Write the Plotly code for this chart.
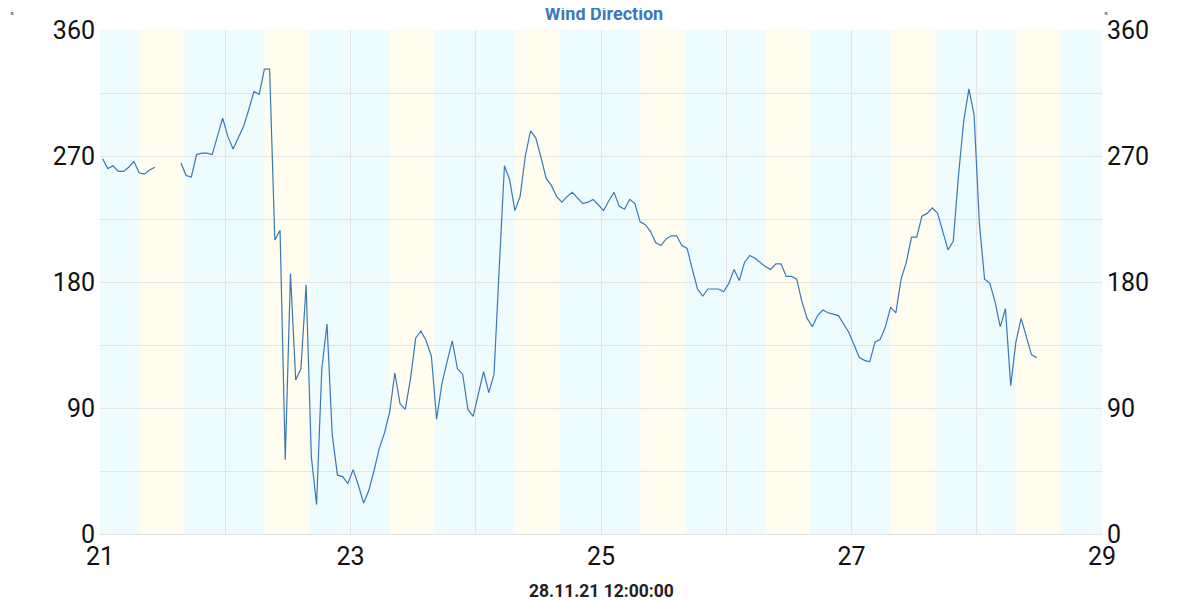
import plotly.graph_objects as go
import pandas as pd

# hourly readings, 21.11.21 00:30 .. 28.11.21 11:30 (None = missing)
first_reading = "2021-11-21 00:30"
wind_dir = [
    268, 261, 263, 259, 259, 262, 266, 258, 257, 260, 262, None, None, None, None, 265,
    256, 255, 271, 272, 272, 271, 284, 297, 284, 275, 283, 291, 303, 316, 314, 332,
    332, 210, 217, 53, 186, 110, 118, 178, 55, 21, 118, 150, 71, 42, 41, 36,
    46, 35, 22, 31, 45, 61, 72, 87, 115, 93, 89, 111, 140, 145, 138, 127,
    82, 107, 123, 138, 118, 114, 89, 84, 100, 116, 101, 114, 190, 263, 253, 231,
    241, 270, 288, 283, 269, 254, 249, 241, 237, 241, 244, 240, 236, 237, 239, 235,
    231, 238, 244, 234, 232, 239, 236, 223, 221, 216, 208, 206, 211, 213, 213, 206,
    204, 189, 175, 170, 175, 175, 175, 173, 179, 189, 181, 194, 199, 197, 194, 191,
    189, 193, 193, 184, 184, 182, 166, 154, 148, 156, 160, 158, 157, 156, 150, 144,
    135, 126, 124, 123, 137, 139, 148, 162, 158, 182, 194, 212, 212, 227, 229, 233,
    229, 216, 203, 209, 256, 295, 318, 299, 222, 182, 179, 166, 148, 161, 106, 137,
    154, 141, 128, 126,
]

# daylight bands
days = ["2021-11-21", "2021-11-22", "2021-11-23", "2021-11-24",
        "2021-11-25", "2021-11-26", "2021-11-27", "2021-11-28"]
sunrise = "07:30"
sunset = "16:05"

x_start = "2021-11-21"
x_end = "2021-11-29"
updated = "28.11.21 12:00:00"

times = pd.date_range(first_reading, periods=len(wind_dir), freq="h")

# page body has an 8px margin, so the figure is 8px smaller than the window
W, H = 1192, 592
L, R, T, B = 92, 98, 22, 66
plot_w = W - L - R
plot_h = H - T - B

fig = go.Figure()
fig.add_trace(go.Scatter(x=times, y=wind_dir, mode="lines",
                         line=dict(color="#3a78b5", width=1.2),
                         connectgaps=False, showlegend=False))
# dummy trace so the right axis is drawn
fig.add_trace(go.Scatter(x=[times[0]], y=[0], yaxis="y2", mode="markers",
                         marker=dict(opacity=0), showlegend=False, hoverinfo="skip"))

night = "#effcfd"
day = "#fefdef"
fig.add_shape(type="rect", xref="x", yref="paper", x0=x_start, x1=x_end, y0=0, y1=1,
              fillcolor=night, line_width=0, layer="below")
for d in days:
    fig.add_shape(type="rect", xref="x", yref="paper",
                  x0=d + " " + sunrise, x1=d + " " + sunset, y0=0, y1=1,
                  fillcolor=day, line_width=0, layer="below")

axis_font = dict(family="Roboto", size=25, color="#111")
fig.update_layout(
    width=W, height=H,
    margin=dict(l=L, r=R, t=T, b=B),
    paper_bgcolor="white", plot_bgcolor="white",
    font=dict(family="Roboto"),
    title=dict(text="<b>Wind Direction</b>", x=0.5, xanchor="center", y=1 - 6 / H, yanchor="middle",
               font=dict(size=18, color="#3a7ab8")),
    xaxis=dict(range=[x_start, x_end], dtick=2 * 86400000, tick0=x_start, tickformat="%d",
               showgrid=True, gridcolor="#e4e4e4", gridwidth=1,
               minor=dict(dtick=86400000, showgrid=True, gridcolor="#e4e4e4"),
               zeroline=False, showline=True, linecolor="#e4e4e4", automargin=False,
               tickfont=axis_font, ticks="", ticklabelstandoff=0),
    yaxis=dict(range=[0, 360], dtick=90, showgrid=True, gridcolor="#e4e4e4",
               minor=dict(dtick=45, showgrid=True, gridcolor="#e4e4e4"), automargin=False,
               zeroline=False, tickfont=axis_font, ticks="", ticklabelstandoff=4),
    yaxis2=dict(range=[0, 360], dtick=90, overlaying="y", side="right", showgrid=False,
                automargin=False,
                zeroline=False, tickfont=axis_font, ticks="", ticklabelstandoff=4),
)

fig.add_annotation(text="°", x=(4 - L) / plot_w, y=1 + T / plot_h, xref="paper", yref="paper",
                   showarrow=False, xanchor="center", yanchor="top",
                   font=dict(size=11, color="#333"))
fig.add_annotation(text="°", x=(1098 - L) / plot_w, y=1 + T / plot_h, xref="paper", yref="paper",
                   showarrow=False, xanchor="center", yanchor="top",
                   font=dict(size=11, color="#333"))
fig.add_annotation(text="<b>" + updated + "</b>", x=0.5, y=-57 / plot_h, xref="paper", yref="paper",
                   showarrow=False, xanchor="center", yanchor="middle",
                   font=dict(size=17.5, color="#222"))

fig.write_html("out.html")
